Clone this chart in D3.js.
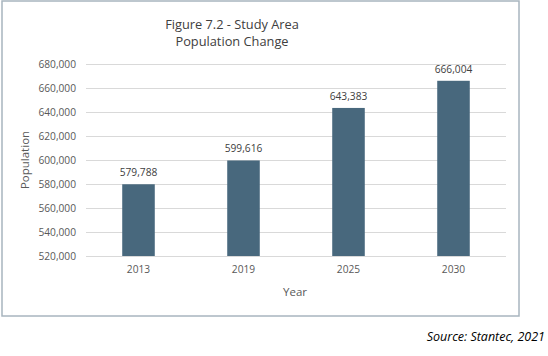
<!DOCTYPE html>
<html><head><meta charset="utf-8">
<script src="https://cdn.jsdelivr.net/npm/d3@7"></script>
<style>body{margin:0;background:#fff;} text{font-family:"Open Sans",sans-serif;}</style>
</head><body>
<svg id="c" width="548" height="356"></svg>
<script>
const years = ["2013","2019","2025","2030"];
const population = [579788, 599616, 643383, 666004];
const yTicks = [520000,540000,560000,580000,600000,620000,640000,660000,680000];

const svg = d3.select("#c");
const x = d3.scaleBand().domain(years).range([86, 506]).paddingInner(0.69).paddingOuter(0.345);
const y = d3.scaleLinear().domain([520000, 680000]).range([256, 64]);
const fmt = d3.format(",");
const txt = "#595959";

// border
svg.append("rect").attr("x",2).attr("y",1).attr("width",517).attr("height",315)
  .attr("fill","none").attr("stroke","#a8b5bf").attr("stroke-width",1.5);

// gridlines
svg.append("g").selectAll("line").data(yTicks).join("line")
  .attr("x1",86).attr("x2",506).attr("y1",d=>Math.round(y(d))+0.5).attr("y2",d=>Math.round(y(d))+0.5)
  .attr("stroke","#d9d9d9").attr("stroke-width",1);

// y axis
const ya = svg.append("g").attr("transform","translate(76,0)")
  .call(d3.axisLeft(y).tickValues(yTicks).tickFormat(fmt).tickSize(0).tickPadding(0));
ya.select(".domain").remove();
ya.selectAll("text").attr("fill",txt).style("font-size","10.2px").style("font-family","'Open Sans',sans-serif");

// bars
svg.append("g").selectAll("rect").data(population).join("rect")
  .attr("x",(d,i)=>x(years[i])).attr("width",x.bandwidth())
  .attr("y",d=>y(d)).attr("height",d=>y(520000)-y(d)).attr("fill","#48687d");

// data labels
svg.append("g").selectAll("text").data(population).join("text")
  .attr("x",(d,i)=>x(years[i])+x.bandwidth()/2).attr("y",d=>y(d)-8)
  .attr("text-anchor","middle").attr("fill","#404040").style("font-size","10.2px").text(fmt);

// x axis
const xa = svg.append("g").attr("transform","translate(0,266)")
  .call(d3.axisBottom(x).tickSize(0).tickPadding(0));
xa.select(".domain").remove();
xa.selectAll("text").attr("fill",txt).style("font-size","10.2px").style("font-family","'Open Sans',sans-serif");

// axis titles
svg.append("text").attr("x",295).attr("y",296).attr("text-anchor","middle").attr("fill",txt)
  .style("font-size","11.5px").text("Year");
svg.append("text").attr("transform","translate(29,160) rotate(-90)").attr("text-anchor","middle").attr("fill",txt)
  .style("font-size","11.5px").text("Population");

// title
const t = svg.append("text").attr("text-anchor","middle").attr("fill","#404040").style("font-size","12.8px");
t.append("tspan").attr("x",232).attr("y",29).text("Figure 7.2 - Study Area");
t.append("tspan").attr("x",232).attr("y",46).text("Population Change");

// source
svg.append("text").attr("x",545).attr("y",341).attr("text-anchor","end").attr("fill","#000")
  .style("font-size","12.5px").style("font-style","italic").text("Source: Stantec, 2021");
</script>
</body></html>
